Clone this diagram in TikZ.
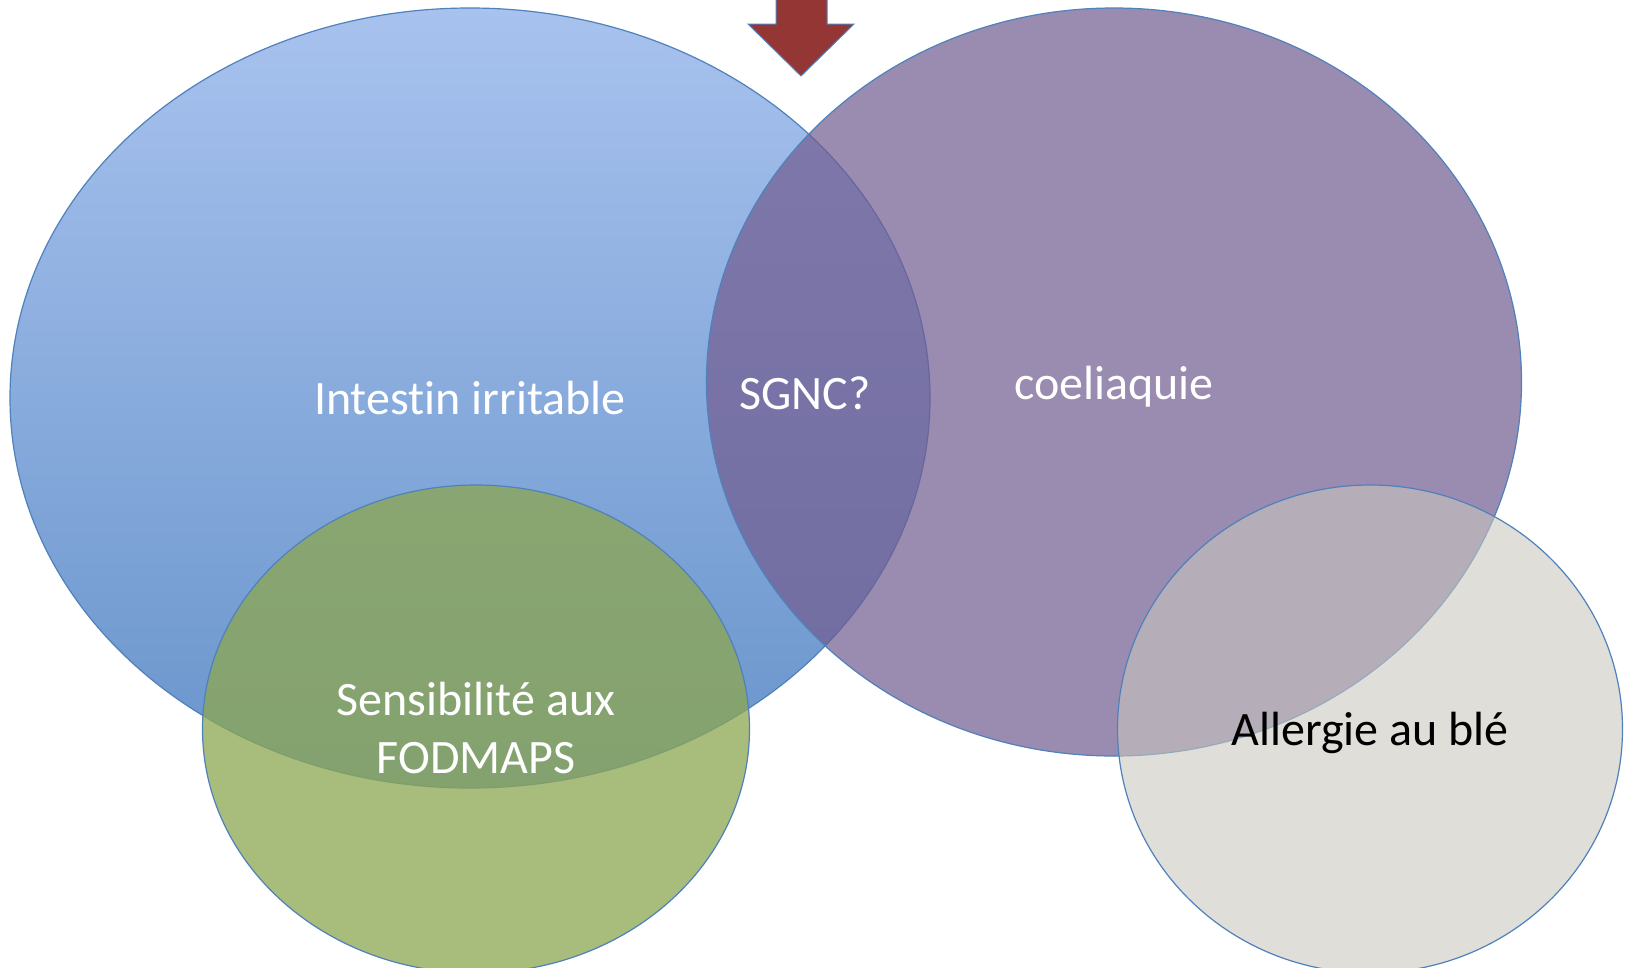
\documentclass[tikz,border=0pt]{standalone}
\usepackage{fontspec}
\setmainfont{Carlito}[Ligatures=NoCommon]
\usetikzlibrary{shapes.geometric}
\definecolor{bluetop}{RGB}{168,194,238}
\definecolor{bluebot}{RGB}{104,148,203}
\definecolor{purp}{RGB}{114,92,144}
\definecolor{grn}{RGB}{141,167,82}
\definecolor{gry}{RGB}{201,199,191}
\definecolor{edge}{RGB}{79,129,189}
\definecolor{arrowred}{RGB}{148,54,52}
\tikzset{
  setshape/.style={ellipse, inner sep=0pt, draw=edge, line width=1.2pt},
  lbl/.style={font=\fontsize{48}{58}\selectfont, text=white, align=center, inner sep=0pt},
}
\begin{document}
\begin{tikzpicture}[x=1pt,y=-1pt]
\useasboundingbox (0,0) rectangle (1629,967);
\fill[white] (0,0) rectangle (1629,967);
\node[setshape, top color=bluetop, bottom color=bluebot, minimum width=920pt, minimum height=780pt] (ibs) at (470,398) {};
\node[setshape, fill=purp, fill opacity=0.71, minimum width=815pt, minimum height=748pt] (coel) at (1114,382) {};
\node[setshape, fill=grn, fill opacity=0.76, minimum width=547pt, minimum height=488pt] (fod) at (476,729) {};
\node[setshape, fill=gry, fill opacity=0.59, minimum width=505pt, minimum height=488pt] (wheat) at (1370,729) {};
\draw[fill=arrowred, draw=edge, line width=1pt, line join=miter]
  (776,-3) -- (776,24) -- (748,24) -- (801,76) -- (854,24) -- (827,24) -- (827,-3) -- cycle;
\node[lbl] (tibs) at (470,398) {Intestin irritable};
\node[lbl] (tsgnc) at (805,393) {SGNC?};
\node[lbl] (tcoel) at (1114,387) {coeliaquie};
\node[lbl] (tfod) at (476,728) {Sensibilité aux\\FODMAPS};
\node[lbl, text=black] (twheat) at (1370,733) {Allergie au blé};
\end{tikzpicture}
\end{document}
